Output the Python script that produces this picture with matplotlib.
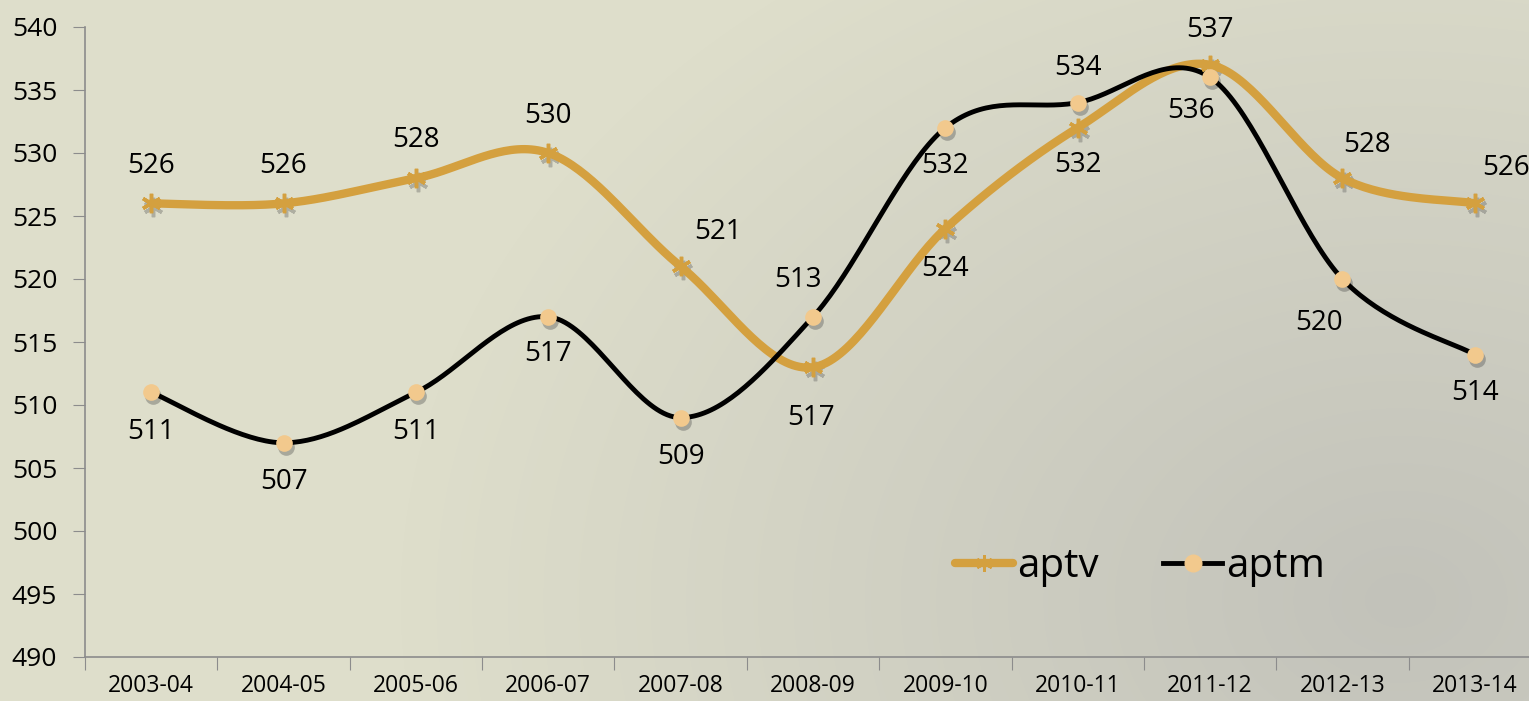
import numpy as np
import matplotlib
matplotlib.use("Agg")
import matplotlib.pyplot as plt
import matplotlib.transforms as mtransforms
from matplotlib.lines import Line2D

# data
years = ["2003-04", "2004-05", "2005-06", "2006-07", "2007-08", "2008-09",
         "2009-10", "2010-11", "2011-12", "2012-13", "2013-14"]
aptv = [526, 526, 528, 530, 521, 513, 524, 532, 537, 528, 526]
aptm = [511, 507, 511, 517, 509, 517, 532, 534, 536, 520, 514]
# label texts as shown on the chart
aptv_labels = ["526", "526", "528", "530", "521", "513", "524", "532", "537", "528", "526"]
aptm_labels = ["511", "507", "511", "517", "509", "517", "532", "534", "536", "520", "514"]

# label offsets in pixels (dx, dy), dy positive = up
aptv_off = [(0, 37), (0, 37), (0, 38), (0, 37), (37, 34), (-15, 87),
            (0, -40), (0, -37), (0, 35), (25, 33), (31, 35)]
aptm_off = [(0, -40), (0, -39), (0, -40), (0, -37), (0, -39), (-2, -101),
            (0, -38), (0, 35), (-19, -34), (-23, -44), (0, -38)]

GOLD = "#D4A03F"
PEACH = "#F2C98D"
FONT = "Open Sans"


def smooth(x, y, n=40):
    # excel-like smoothing (catmull-rom bezier)
    x = np.asarray(x, float)
    y = np.asarray(y, float)
    px = np.concatenate([[x[0]], x, [x[-1]]])
    py = np.concatenate([[y[0]], y, [y[-1]]])
    xs, ys = [], []
    t = np.linspace(0, 1, n)
    for i in range(1, len(px) - 2):
        p0 = np.array([px[i], py[i]])
        p3 = np.array([px[i + 1], py[i + 1]])
        c1 = p0 + (np.array([px[i + 1], py[i + 1]]) - np.array([px[i - 1], py[i - 1]])) / 6
        c2 = p3 - (np.array([px[i + 2], py[i + 2]]) - np.array([px[i], py[i]])) / 6
        b = ((1 - t) ** 3)[:, None] * p0 + (3 * (1 - t) ** 2 * t)[:, None] * c1 \
            + (3 * (1 - t) * t ** 2)[:, None] * c2 + (t ** 3)[:, None] * p3
        xs.append(b[:, 0])
        ys.append(b[:, 1])
    return np.concatenate(xs), np.concatenate(ys)


fig = plt.figure(figsize=(15.29, 7.01), dpi=100)

# background gradient
bg = fig.add_axes([0, 0, 1, 1], zorder=-10)
W, H = 1529, 701
gx, gy = np.meshgrid(np.arange(W), np.arange(H))
d = np.sqrt((gx - 1400) ** 2 + ((gy - 600) * 1.3) ** 2)
t = np.clip(d / 1000, 0, 1)[..., None]
dark = np.array([0xC2, 0xC2, 0xBA]) / 255
light = np.array([0xDE, 0xDE, 0xCB]) / 255
img = dark * (1 - t) + light * t
bg.imshow(img, aspect="auto", extent=[0, 1, 0, 1])
bg.set_axis_off()

ax = fig.add_axes([85 / W, 44 / H, 1456 / W, 630 / H])
ax.set_facecolor("none")
x = np.arange(len(years))

shadow = mtransforms.offset_copy(ax.transData, fig=fig, x=2, y=-4, units="dots")

# aptv
sx, sy = smooth(x, aptv)
ax.plot(sx, sy, color=GOLD, lw=6, solid_capstyle="round", zorder=3)
ax.plot(x, aptv, ls="none", marker=(6, 2, 0), ms=14, mew=2.5, color="#555555",
        alpha=0.35, transform=shadow, zorder=2)
ax.plot(x, aptv, ls="none", marker=(6, 2, 0), ms=14, mew=2.5, color=GOLD, zorder=4)

# aptm
sx, sy = smooth(x, aptm)
ax.plot(sx, sy, color="black", lw=3.5, zorder=3)
ax.plot(x, aptm, ls="none", marker="o", ms=12, color="#444444", alpha=0.35,
        mew=0, transform=shadow, zorder=2)
ax.plot(x, aptm, ls="none", marker="o", ms=12, color=PEACH, mew=0, zorder=5)

for i in range(len(years)):
    ax.annotate(aptv_labels[i], (x[i], aptv[i]), xytext=aptv_off[i],
                textcoords="offset pixels", ha="center", va="center",
                fontsize=20, family=FONT, color="black", zorder=6)
    ax.annotate(aptm_labels[i], (x[i], aptm[i]), xytext=aptm_off[i],
                textcoords="offset pixels", ha="center", va="center",
                fontsize=20, family=FONT, color="black", zorder=6)

ax.set_xlim(-0.5, len(years) - 0.5)
ax.set_ylim(490, 540)
ax.set_yticks(np.arange(490, 541, 5))
ax.set_xticks(np.arange(len(years) + 1) - 0.5)
ax.set_xticklabels([])
ax.set_xticks(x, minor=True)
ax.set_xticklabels(years, minor=True, fontsize=16.5, family=FONT)
ax.tick_params(axis="x", which="minor", length=0, pad=12)
ax.tick_params(axis="x", which="major", length=9, color="#8C8C8C", direction="out")
ax.tick_params(axis="y", length=9, color="#8C8C8C", labelsize=19, pad=11)
for lab in ax.get_yticklabels():
    lab.set_family(FONT)
for s in ["top", "right"]:
    ax.spines[s].set_visible(False)
for s in ["left", "bottom"]:
    ax.spines[s].set_color("#8C8C8C")
    ax.spines[s].set_linewidth(1.2)

handles = [
    Line2D([], [], color=GOLD, lw=6, solid_capstyle="round", marker=(6, 2, 0),
           ms=12, mew=2, mec=GOLD),
    Line2D([], [], color="black", lw=3.5, marker="o", ms=12, mfc=PEACH, mec=PEACH),
]
ax.legend(handles, ["aptv", "aptm"], loc="center", bbox_to_anchor=(0.7245, 0.143),
          ncol=2, frameon=False, prop={"family": FONT, "size": 29},
          handlelength=1.45, handletextpad=0.1, columnspacing=1.6)

fig.savefig("out.png", dpi=100)
